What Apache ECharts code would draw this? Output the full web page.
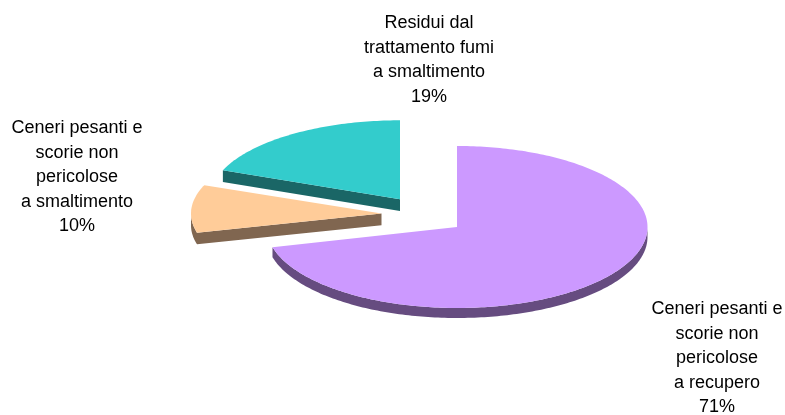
<!DOCTYPE html>
<html>
<head>
<meta charset="utf-8">
<style>html,body{margin:0;padding:0;background:#fff}#chart{width:785px;height:415px}</style>
<script src="https://cdn.jsdelivr.net/npm/echarts@6/dist/echarts.min.js"></script>
</head>
<body>
<div id="chart"></div>
<script>
// Waste residues by destination, shares in percent, clockwise from 12 o'clock.
var categories = [
  ['Ceneri pesanti e', 'scorie non', 'pericolose', 'a recupero'],
  ['Ceneri pesanti e', 'scorie non', 'pericolose', 'a smaltimento'],
  ['Residui dal', 'trattamento fumi', 'a smaltimento']
];
var shares = [71, 10, 19];

var topColors = ['#CC99FF', '#FFCC99', '#33CCCC'];
var wallColors = ['#664C80', '#806650', '#1A6666'];
// Pixel centre of each exploded slice, its vertical radius and wall height.
var centers = [[457, 227], [381.5, 213.5], [400, 199.3]];
var radiiY = [81, 77, 79];
var depths = [10, 11.7, 11.7];
// Anchor (horizontal centre, first line middle) of each label block.
var labelAnchors = [[717, 309], [77, 128], [429, 23]];
var RX = 190.5, LINE = 24.6;

var total = shares.reduce(function (a, b) { return a + b; }, 0);

function outline(cx, cy, ry, from, to) {
  var pts = [[cx, cy]];
  var steps = Math.ceil((to - from) / (Math.PI / 180));
  for (var i = 0; i <= steps; i++) {
    var a = from + (to - from) * i / steps;
    pts.push([cx + RX * Math.sin(a), cy - ry * Math.cos(a)]);
  }
  return pts;
}

// Walls are only needed under edges facing the viewer, where x decreases
// along the clockwise outline. Each contiguous run becomes one polygon.
function wallPolygons(pts, d) {
  var runs = [], run = null;
  for (var i = 0; i < pts.length; i++) {
    var p = pts[i], q = pts[(i + 1) % pts.length];
    if (q[0] < p[0] - 1e-6) {
      if (!run) { run = [p]; runs.push(run); }
      run.push(q);
    } else {
      run = null;
    }
  }
  return runs.map(function (r) {
    var lowered = r.map(function (p) { return [p[0], p[1] + d]; }).reverse();
    return r.concat(lowered);
  });
}

function renderSlice(params, api) {
  var idx = params.dataIndex;
  var before = 0;
  for (var k = 0; k < idx; k++) before += shares[k];
  var from = before / total * 2 * Math.PI;
  var to = (before + api.value(0)) / total * 2 * Math.PI;
  var c = centers[idx];
  var pts = outline(c[0], c[1], radiiY[idx], from, to);
  var children = [];

  wallPolygons(pts, depths[idx]).forEach(function (poly) {
    children.push({
      type: 'polygon',
      shape: { points: poly },
      style: { fill: wallColors[idx] }
    });
  });
  // Top face.
  children.push({
    type: 'polygon',
    shape: { points: pts },
    style: { fill: topColors[idx] }
  });
  // Label block: category lines followed by the percentage.
  var lines = categories[idx].concat([api.value(0) + '%']);
  lines.forEach(function (line, n) {
    children.push({
      type: 'text',
      style: {
        text: line,
        x: labelAnchors[idx][0],
        y: labelAnchors[idx][1] + n * LINE,
        align: 'center',
        verticalAlign: 'middle',
        fill: '#000',
        font: '18px "Liberation Sans", Arial, sans-serif'
      }
    });
  });
  return { type: 'group', children: children };
}

var chart = echarts.init(document.getElementById('chart'), null, { renderer: 'canvas' });
chart.setOption({
  animation: false,
  backgroundColor: '#fff',
  series: [{
    type: 'custom',
    coordinateSystem: 'none',
    silent: true,
    data: shares.map(function (v) { return [v]; }),
    renderItem: renderSlice
  }]
});
</script>
</body>
</html>
